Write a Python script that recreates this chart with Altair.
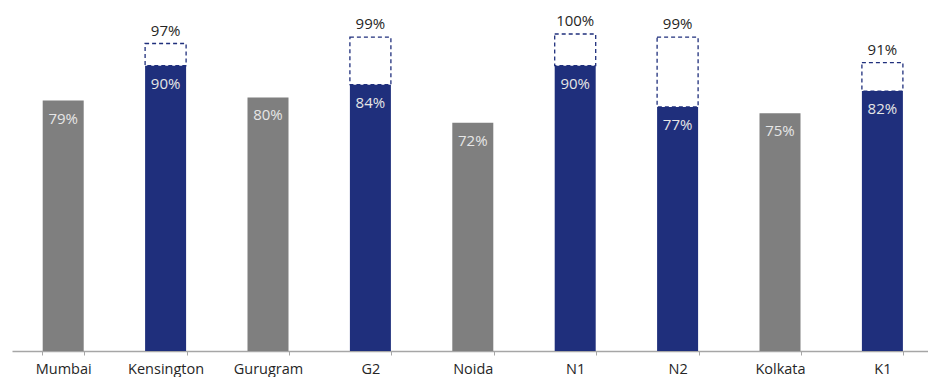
import altair as alt
import pandas as pd

categories = ["Mumbai", "Kensington", "Gurugram", "G2", "Noida", "N1", "N2", "Kolkata", "K1"]
actual = [0.79, 0.90, 0.80, 0.84, 0.72, 0.90, 0.77, 0.75, 0.82]
target = [None, 0.97, None, 0.99, None, 1.00, 0.99, None, 0.91]
group = ["City", "Asset", "City", "Asset", "City", "Asset", "Asset", "City", "Asset"]

df = pd.DataFrame({"cat": categories, "actual": actual, "target": target, "group": group})

FONT = "Open Sans"
NAVY = "#1f2f7c"
GRAY = "#7f7f7f"

x = alt.X("cat:N", sort=categories, title=None,
          scale=alt.Scale(range=[0, 921.6], paddingInner=0.59, paddingOuter=0.295),
          axis=alt.Axis(labelAngle=0, domainColor="#a6a6a6", tickColor="#a6a6a6",
                        tickSize=4, tickBand="extent", labelFontSize=14.5, labelColor="#262626",
                        labelFont=FONT, labelPadding=7, domainWidth=1.5))
y_scale = alt.Scale(domain=[0, 1], nice=False)

base = alt.Chart(df)

bars = base.mark_bar(size=41).encode(
    x=x,
    y=alt.Y("actual:Q", scale=y_scale, axis=None),
    color=alt.Color("group:N", scale=alt.Scale(domain=["City", "Asset"], range=[GRAY, NAVY]), legend=None),
)

boxes = base.transform_filter("datum.target != null").mark_bar(
    size=41, fill="white", fillOpacity=0, stroke=NAVY, strokeWidth=1.3, strokeDash=[4, 3]
).encode(
    x=x,
    y=alt.Y("actual:Q", scale=y_scale, axis=None),
    y2="target:Q",
)

inner = base.mark_text(dy=18, fontSize=15, font=FONT, color="#e6e6e6").encode(
    x=x,
    y=alt.Y("actual:Q", scale=y_scale, axis=None),
    text=alt.Text("actual:Q", format=".0%"),
)

top = base.transform_filter("datum.target != null").mark_text(
    dy=-13, fontSize=15, font=FONT, color="#262626"
).encode(
    x=x,
    y=alt.Y("target:Q", scale=y_scale, axis=None),
    text=alt.Text("target:Q", format=".0%"),
)

chart = alt.layer(bars, boxes, inner, top).properties(
    width=916, height=317,
    autosize=alt.AutoSizeParams(type="none"),
    padding={"left": 12, "top": 34, "right": 0, "bottom": 26},
).configure_view(stroke=None)

chart.save("out.html", embed_options={"renderer": "svg", "actions": False})
